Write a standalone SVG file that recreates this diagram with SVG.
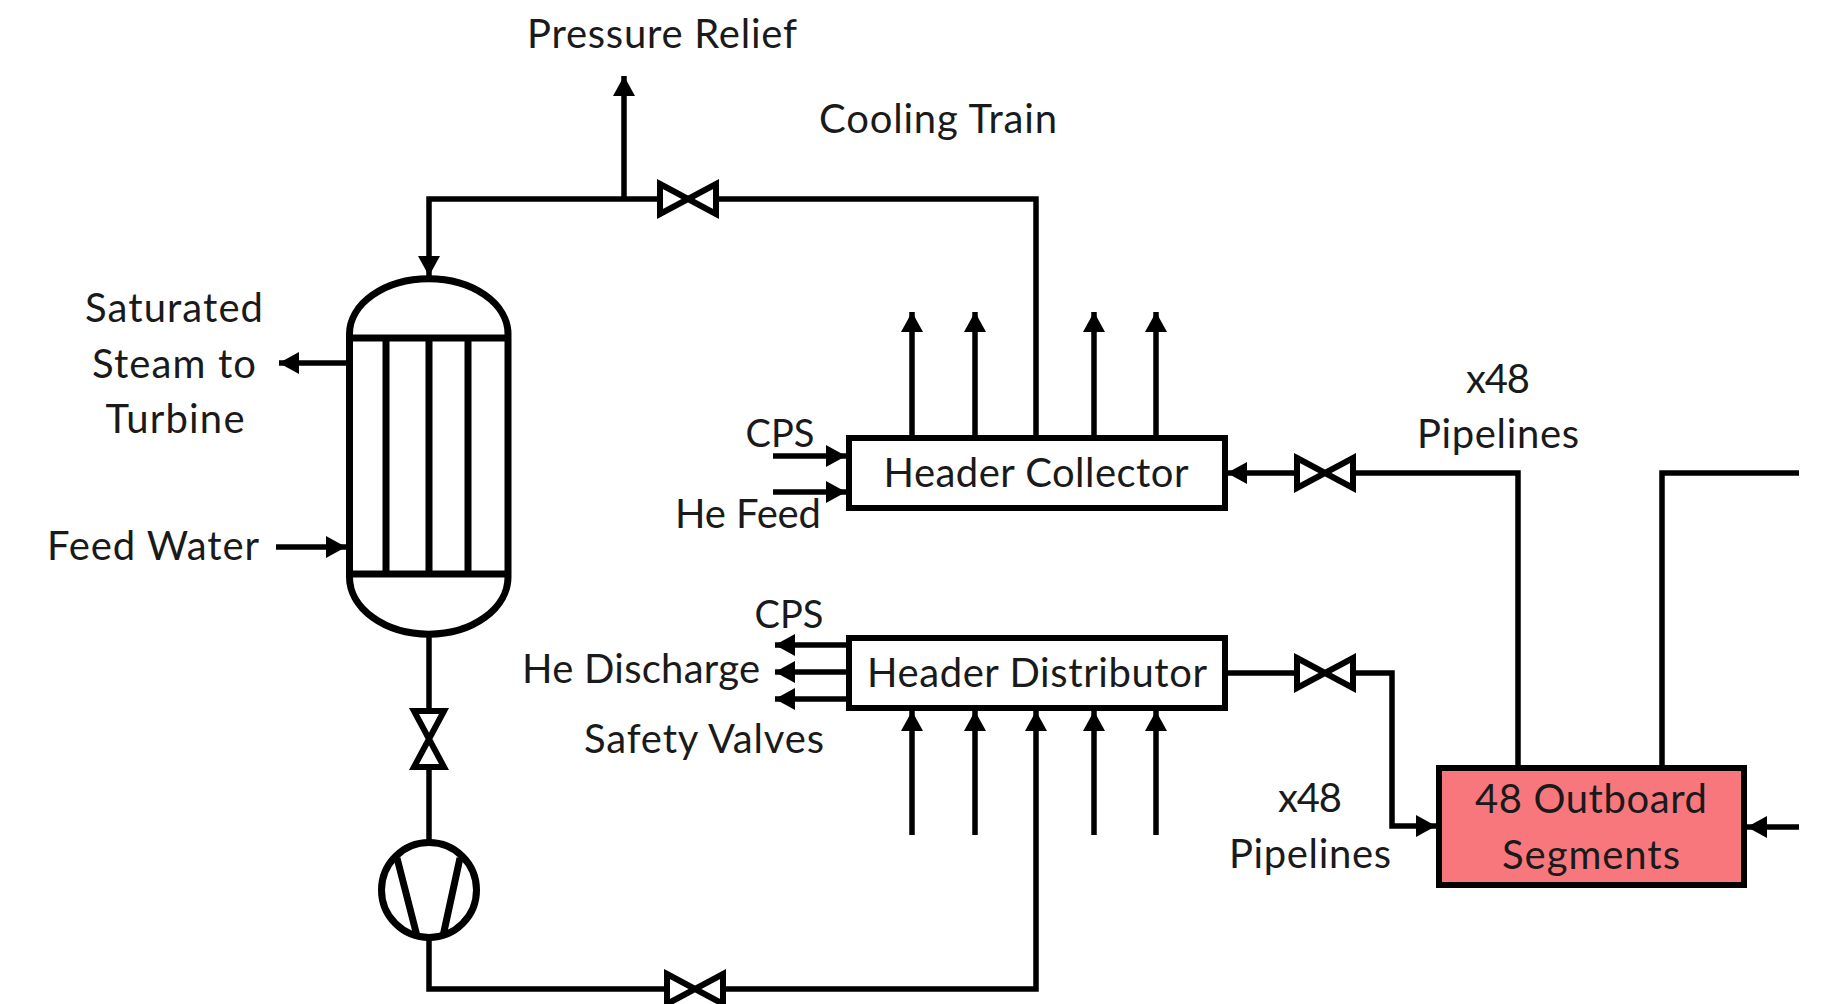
<svg xmlns="http://www.w3.org/2000/svg" width="1833" height="1004" viewBox="0 0 1833 1004">
<style>
.l{fill:none;stroke:#000;stroke-width:5.500}
.a{fill:none;stroke:#000;stroke-width:5.500;marker-end:url(#ah)}
.v{fill:#fff;stroke:#000;stroke-width:6}
.b{fill:#fff;stroke:#000;stroke-width:6}
text{font-family:Lato,"Liberation Sans",sans-serif;font-size:40px;fill:#1a1a1a;text-anchor:middle}
text.s{font-size:38px}
</style>
<defs>
<marker id="ah" markerUnits="userSpaceOnUse" markerWidth="22" markerHeight="22" refX="20" refY="11" orient="auto"><path d="M0 0L20 11L0 22Z" fill="#000"/></marker>
<path id="vh" d="M-28-15L28 15V-15L-28 15Z"/>
</defs>
<rect width="1833" height="1004" fill="#fff"/>
<g id="connectors">
<path class="a" d="M1036 436V199H429V276"/>
<path class="a" d="M624 199V76"/>
<path class="a" d="M346 363H279"/>
<path class="a" d="M276 547H346"/>
<path class="l" d="M429 632V888"/>
<path class="a" d="M429 888V989H1036V711"/>
<path class="a" d="M912 436V312"/><path class="a" d="M975 436V312"/><path class="a" d="M1094 436V312"/><path class="a" d="M1156 436V312"/>
<path class="a" d="M912 835V711"/><path class="a" d="M975 835V711"/><path class="a" d="M1094 835V711"/><path class="a" d="M1156 835V711"/>
<path class="a" d="M773 456H846"/><path class="a" d="M773 492H846"/>
<path class="a" d="M846 645H775"/><path class="a" d="M846 672H775"/><path class="a" d="M846 699H775"/>
<path class="a" d="M1518 766V473H1227"/>
<path class="a" d="M1226 673H1392V826H1436"/>
<path class="l" d="M1662 766V473H1799"/>
<path class="a" d="M1799 827H1747"/>
</g>
<g id="heat-exchanger">
<path fill="#fff" stroke="#000" stroke-width="7" d="M349.500 334A79 55 0 0 1 508 334V577A79 57 0 0 1 349.500 577Z"/>
<path fill="none" stroke="#000" stroke-width="7" d="M349 338H508M349 574H508M386 338V574M429 338V574M468 338V574"/>
</g>
<g id="valve-relief"><use href="#vh" class="v" transform="translate(688 199)"/></g>
<g id="valve-pump-in"><use href="#vh" class="v" transform="translate(429 739) rotate(90)"/></g>
<g id="valve-bottom"><use href="#vh" class="v" transform="translate(695 989)"/></g>
<g id="valve-collector"><use href="#vh" class="v" transform="translate(1325 473)"/></g>
<g id="valve-distributor"><use href="#vh" class="v" transform="translate(1325 673)"/></g>
<g id="pump">
<circle cx="429" cy="890" r="47.500" fill="#fff" stroke="#000" stroke-width="7"/>
<path fill="none" stroke="#000" stroke-width="7" d="M397 858L417 936M460 858L443 936"/>
</g>
<g id="header-collector"><rect class="b" x="849" y="438" width="376" height="70"/><text x="1036" y="487" textLength="305">Header Collector</text></g>
<g id="header-distributor"><rect class="b" x="849" y="638" width="376" height="70"/><text x="1037" y="687" textLength="340">Header Distributor</text></g>
<g id="outboard"><rect x="1439" y="768" width="305" height="117" fill="#F8777D" stroke="#000" stroke-width="6"/><text x="1591" y="813" textLength="232">48 Outboard</text><text x="1591" y="869" textLength="178">Segments</text></g>
<g id="labels">
<text x="662" y="48" textLength="270">Pressure Relief</text>
<text x="938" y="133" textLength="238">Cooling Train</text>
<text x="174" y="322" textLength="178">Saturated</text>
<text x="174" y="378" textLength="164">Steam to</text>
<text x="175" y="433" textLength="139">Turbine</text>
<text x="153" y="560" textLength="212">Feed Water</text>
<text class="s" x="780" y="447">CPS</text>
<text x="748" y="528" textLength="146">He Feed</text>
<text class="s" x="789" y="628">CPS</text>
<text x="641" y="683" textLength="238">He Discharge</text>
<text x="704" y="753" textLength="240">Safety Valves</text>
<text x="1498" y="393" textLength="64">x48</text>
<text x="1498" y="448" textLength="162">Pipelines</text>
<text x="1310" y="812" textLength="64">x48</text>
<text x="1310" y="868" textLength="162">Pipelines</text>
</g>
</svg>
